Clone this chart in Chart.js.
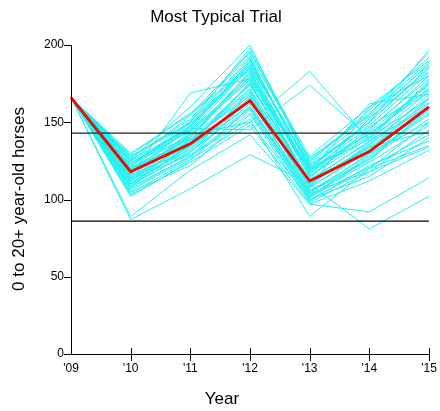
<!DOCTYPE html>
<html>
<head>
<meta charset="utf-8">
<script src="https://cdn.jsdelivr.net/npm/chart.js@4/dist/chart.umd.min.js"></script>
<style>
  html, body { margin: 0; padding: 0; background: #fff; }
  #wrap { width: 440px; height: 411px; position: relative; }
</style>
</head>
<body>
<div id="wrap"><canvas id="trialChart"></canvas></div>
<script>
const years = ["'09", "'10", "'11", "'12", "'13", "'14", "'15"];
const yTicks = [0, 50, 100, 150, 200];

// the most typical trial (red)
const typical = [166, 118, 136, 164, 112, 131, 160];

// reference band (black horizontal lines)
const upperBand = 143;
const lowerBand = 86;

// all simulated trials (cyan)
const trials = [
    [166, 125, 145, 190, 120, 150, 185],
    [166, 110, 130, 170, 105, 125, 160],
    [166, 118, 140, 182, 115, 140, 175],
    [166, 128, 150, 198, 125, 155, 195],
    [166, 102, 125, 160, 100, 120, 150],
    [166, 115, 135, 175, 110, 135, 168],
    [166, 122, 148, 185, 118, 145, 180],
    [166, 108, 128, 165, 102, 128, 155],
    [166, 120, 142, 178, 112, 138, 170],
    [166, 130, 155, 195, 128, 160, 190],
    [166, 105, 122, 155, 98, 118, 145],
    [166, 112, 138, 172, 108, 132, 165],
    [166, 126, 146, 188, 122, 148, 182],
    [166, 116, 132, 168, 106, 126, 158],
    [166, 119, 150, 192, 116, 152, 188],
    [166, 104, 126, 150, 100, 115, 140],
    [166, 124, 140, 180, 120, 142, 172],
    [166, 110, 135, 160, 104, 130, 150],
    [166, 113, 144, 186, 114, 146, 178],
    [166, 121, 136, 176, 110, 134, 162],
    [166, 127, 152, 196, 124, 158, 192],
    [166, 107, 128, 158, 99, 122, 138],
    [166, 117, 141, 183, 117, 141, 176],
    [166, 114, 134, 166, 103, 124, 148],
    [166, 123, 147, 189, 121, 150, 186],
    [166, 109, 131, 162, 101, 127, 152],
    [166, 120, 139, 174, 113, 137, 166],
    [166, 125, 154, 193, 126, 156, 189],
    [166, 103, 124, 148, 97, 112, 132],
    [166, 118, 137, 171, 111, 133, 160],
    [166, 115, 143, 181, 115, 144, 174],
    [166, 111, 133, 164, 105, 129, 156],
    [166, 128, 149, 187, 123, 153, 183],
    [166, 106, 127, 156, 102, 121, 142],
    [166, 122, 145, 179, 119, 147, 171],
    [166, 119, 138, 169, 109, 136, 163],
    [166, 87, 107, 129, 110, 81, 102],
    [166, 89, 119, 142, 97, 92, 114],
    [166, 112, 142, 150, 183, 138, 160],
    [166, 118, 146, 145, 174, 140, 165],
    [166, 116, 169, 178, 118, 143, 170],
    [166, 126, 160, 200, 122, 150, 197],
    [166, 113, 129, 152, 89, 120, 135],
    [166, 121, 151, 184, 107, 160, 180],
    [166, 108, 136, 175, 112, 134, 144],
    [166, 124, 144, 177, 118, 162, 168],
    [166, 114, 131, 159, 104, 118, 134],
    [166, 117, 148, 191, 120, 139, 177],
    [166, 110, 139, 167, 108, 131, 158],
    [166, 129, 156, 185, 127, 154, 187]
];

const FONT = '"Liberation Sans", Arial, sans-serif';

// axes, tick marks and titles drawn by hand (ticks cross the x axis)
const framePlugin = {
    id: 'frame',
    afterDraw(chart) {
        const { ctx, chartArea, scales } = chart;
        const x = scales.x, y = scales.y;
        ctx.save();
        ctx.strokeStyle = '#000';
        ctx.lineWidth = 1;
        ctx.beginPath();
        ctx.moveTo(chartArea.left + 0.5, chartArea.top);
        ctx.lineTo(chartArea.left + 0.5, chartArea.bottom + 0.5);
        ctx.lineTo(chartArea.right, chartArea.bottom + 0.5);
        yTicks.forEach(v => {
            const py = Math.round(y.getPixelForValue(v)) + 0.5;
            ctx.moveTo(chartArea.left - 7, py);
            ctx.lineTo(chartArea.left, py);
        });
        years.forEach((lbl, i) => {
            if (i === 0) return;
            const px = Math.round(x.getPixelForValue(i)) + 0.5;
            ctx.moveTo(px, chartArea.bottom - 6);
            ctx.lineTo(px, chartArea.bottom + 7);
        });
        ctx.stroke();

        ctx.fillStyle = '#000';
        ctx.textAlign = 'center';
        ctx.textBaseline = 'alphabetic';
        ctx.font = '17px ' + FONT;
        ctx.fillText('Most Typical Trial', 216, 22);
        ctx.fillText('Year', 222, 404);

        ctx.translate(24, 199);
        ctx.rotate(-Math.PI / 2);
        ctx.fillText('0 to 20+ year-old horses', 0, 0);
        ctx.restore();
    }
};

const datasets = [];
datasets.push({
    label: 'Most typical',
    data: typical,
    borderColor: '#ff0000',
    borderWidth: 2.8,
    order: 0
});
datasets.push({
    label: 'upper',
    data: years.map(() => upperBand),
    borderColor: '#222',
    borderWidth: 1.2,
    order: 1
});
datasets.push({
    label: 'lower',
    data: years.map(() => lowerBand),
    borderColor: '#000',
    borderWidth: 1.2,
    order: 1
});
trials.forEach((t, i) => {
    datasets.push({
        label: 'trial ' + (i + 1),
        data: t,
        borderColor: '#22f0f0',
        borderWidth: 1,
        order: 2
    });
});

const ctx = document.getElementById('trialChart').getContext('2d');
new Chart(ctx, {
    type: 'line',
    data: { labels: years, datasets: datasets },
    options: {
        responsive: true,
        maintainAspectRatio: false,
        animation: false,
        events: [],
        elements: {
            point: { radius: 0 },
            line: { tension: 0 }
        },
        layout: { padding: { left: 0, top: 45, right: 11, bottom: 0 } },
        plugins: {
            legend: { display: false },
            tooltip: { enabled: false },
            title: { display: false }
        },
        scales: {
            x: {
                offset: false,
                grid: { display: false, drawTicks: false },
                border: { display: false },
                ticks: {
                    color: '#000',
                    padding: 7,
                    maxRotation: 0,
                    font: { family: FONT, size: 12 }
                },
                afterFit(scale) {
                    scale.height = 57;
                    scale.paddingLeft = 0;
                    scale.paddingRight = 0;
                }
            },
            y: {
                min: 0,
                max: 200,
                grid: { display: false, drawTicks: false },
                border: { display: false },
                afterBuildTicks(scale) {
                    scale.ticks = yTicks.map(v => ({ value: v }));
                },
                ticks: {
                    color: '#000',
                    padding: 7,
                    font: { family: FONT, size: 12 }
                },
                afterFit(scale) {
                    scale.width = 71;
                    scale.paddingTop = 0;
                    scale.paddingBottom = 0;
                }
            }
        }
    },
    plugins: [framePlugin]
});
</script>
</body>
</html>
